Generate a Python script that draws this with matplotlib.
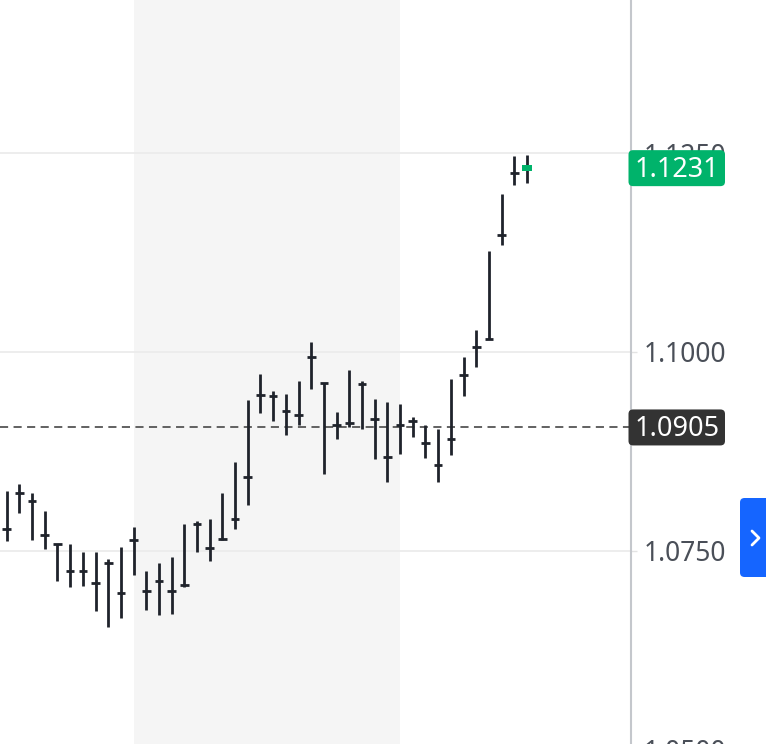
import matplotlib
matplotlib.use("Agg")
import matplotlib.pyplot as plt
from matplotlib.patches import FancyBboxPatch
from matplotlib.lines import Line2D
import numpy as np

plt.rcParams['font.family'] = ['Noto Sans', 'DejaVu Sans']

# OHLC-style bars: high, low, close (price ticks)
highs = [1.0825, 1.0834, 1.0823, 1.0800, 1.0758, 1.0758, 1.0748, 1.0748, 1.0740, 1.0755,
         1.0780, 1.0725, 1.0735, 1.0742, 1.0783, 1.0788, 1.0790, 1.0823, 1.0861, 1.0939,
         1.0972, 1.0951, 1.0947, 1.0964, 1.1012, 1.0961, 1.0924, 1.0977, 1.0964, 1.0941,
         1.0937, 1.0934, 1.0918, 1.0908, 1.0903, 1.0966, 1.0994, 1.1027, 1.1127, 1.1198,
         1.1246, 1.1248]
lows = [1.0762, 1.0797, 1.0764, 1.0752, 1.0712, 1.0704, 1.0706, 1.0674, 1.0654, 1.0666,
        1.0719, 1.0676, 1.0669, 1.0671, 1.0704, 1.0749, 1.0737, 1.0763, 1.0777, 1.0807,
        1.0923, 1.0913, 1.0895, 1.0908, 1.0953, 1.0847, 1.0890, 1.0905, 1.0903, 1.0865,
        1.0837, 1.0872, 1.0893, 1.0867, 1.0837, 1.0870, 1.0945, 1.0981, 1.1016, 1.1134,
        1.1210, 1.1212]
closes = [1.0777, 1.0823, 1.0813, 1.0770, 1.0758, 1.0725, 1.0725, 1.0710, 1.0735, 1.0697,
          1.0763, 1.0700, 1.0712, 1.0700, 1.0707, 1.0783, 1.0753, 1.0765, 1.0790, 1.0843,
          1.0946, 1.0944, 1.0926, 1.0921, 1.0994, 1.0961, 1.0908, 1.0911, 1.0959, 1.0916,
          1.0868, 1.0908, 1.0913, 1.0886, 1.0858, 1.0891, 1.0971, 1.1006, 1.1016, 1.1147,
          1.1225, 1.1231]

yticks = [1.0500, 1.0750, 1.1000, 1.1250]
last_price = 1.1231
ref_price = 1.0905
band_start, band_end = 10, 31

W, H = 766, 744
fig = plt.figure(figsize=(W / 100, H / 100), dpi=100)
# axes: right spine at x=631 px, extends a little below the figure
ax = fig.add_axes([0, -16 / H, 631 / W, 760 / H])

n = len(closes)
x = np.arange(n)
ax.set_xlim(-0.53, 49.2)
ax.set_ylim(1.04869, 1.14424)

ax.axvspan(band_start, band_end, color='#f5f5f5', zorder=0, lw=0)

for t in yticks:
    ax.axhline(t, color='#ececec', lw=1.3, zorder=1)

bar_color = '#1f232b'
ax.vlines(x, lows, highs, color=bar_color, lw=2.0, zorder=3)
tick_half = 0.34
ax.hlines(closes[:-1], x[:-1] - tick_half, x[:-1] + tick_half, color=bar_color, lw=2.0, zorder=3)
# last bar marker in green
ax.add_patch(plt.Rectangle((x[-1] - 0.4, closes[-1] - 0.00036), 0.8, 0.00072,
                           color='#00b36b', zorder=4, lw=0))

ax.axhline(ref_price, color='#555555', lw=1.3, ls=(0, (4.5, 3)), zorder=2)

for s in ['top', 'left', 'bottom']:
    ax.spines[s].set_visible(False)
ax.spines['right'].set_color('#c4c7cc')
ax.spines['right'].set_linewidth(1.5)

ax.set_xticks([])
ax.yaxis.tick_right()
ax.set_yticks(yticks)
ax.set_yticklabels(['{:.4f}'.format(t) for t in yticks])
ax.tick_params(axis='y', length=4.3, width=1, color='#e3e3e3', pad=4.5,
               labelsize=19, labelcolor='#4a4f58')


def price_box(price, text, face):
    y = ax.transData.transform((0, price))[1]
    fy = y / H
    fig.patches.append(FancyBboxPatch((628.5 / W, fy - 18 / H), 96.5 / W, 36 / H,
                                      boxstyle='round,pad=0,rounding_size=0.006',
                                      transform=fig.transFigure, facecolor=face,
                                      edgecolor='none', zorder=5))
    fig.text(677 / W, fy - 1.5 / H, text, color='white', fontsize=19.5,
             ha='center', va='center', zorder=6)


price_box(last_price, '1.1231', '#00b36b')
price_box(ref_price, '1.0905', '#333333')

# blue side button with chevron
fig.patches.append(FancyBboxPatch((740 / W, (H - 577) / H), 40 / W, 79 / H,
                                  boxstyle='round,pad=0,rounding_size=0.006',
                                  transform=fig.transFigure, facecolor='#1565ff',
                                  edgecolor='none', zorder=5))
fig.lines.append(Line2D([752 / W, 759 / W, 752 / W],
                        [(H - 531) / H, (H - 538) / H, (H - 545) / H],
                        transform=fig.transFigure, color='white', lw=2,
                        solid_capstyle='round', zorder=6))

fig.savefig('out.png', dpi=100)
